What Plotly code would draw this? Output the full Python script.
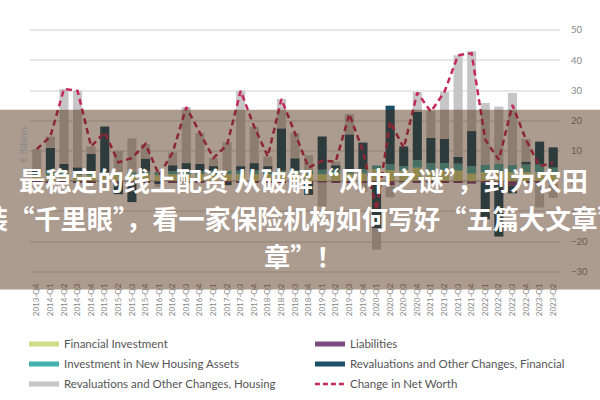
import plotly.graph_objects as go

quarters = ["2013-Q4"] + [f"{y}-Q{q}" for y in range(2014, 2023) for q in range(1, 5)] + ["2023-Q1", "2023-Q2"]

financial_investment = [1.8, 2.0, 2.0, 2.0, 2.0, 2.0, 2.0, 2.0, 2.2, 2.0, 2.3, 2.2, 2.3, 2.3, 2.3, 2.3, 2.3, 2.3, 2.3, 2.3,
                        2.3, 2.3, 2.3, 2.5, 2.5, 4.0, 3.7, 3.5, 4.5, 3.5, 3.5, 3.5, 2.5, 3.0, 3.0, 3.0, 3.0, 3.0, 2.5]
investment_housing = [0.8, 1.0, 1.0, 1.0, 1.2, 1.1, 1.0, 1.0, 1.1, 1.0, 1.0, 1.0, 1.1, 1.2, 1.2, 1.2, 1.2, 1.2, 1.2, 1.3,
                      1.3, 1.5, 1.5, 1.5, 1.5, 1.2, 2.0, 1.5, 2.5, 2.5, 2.5, 2.3, 2.5, 2.5, 2.7, 2.5, 2.5, 2.5, 2.0]
liabilities = [-0.3, -0.4, -0.3, -0.4, -0.3, -0.4, -0.5, -0.4, -0.3, -0.4, -0.3, -0.4, -0.3, -0.4, -0.3, -0.4, -0.3, -0.4, -0.3, -0.4,
               -0.5, -0.4, -0.3, -0.4, -0.5, -0.6, -1.3, -0.5, -0.4, -0.5, -0.4, -0.5, -0.8, -0.6, -0.7, -1.5, -0.6, -0.5, -0.5]
reval_financial = [1.5, 8.0, 2.7, 1.6, 5.8, 15.0, -3.8, -6.5, 4.2, -0.5, 2.0, 2.8, 2.3, 1.5, -1.0, 1.5, 2.5, 1.5, 14.0, 4.0,
                   -4.0, 11.0, 1.5, 11.5, 8.8, -15.0, 19.3, 6.5, 16.0, 8.3, 8.0, 2.3, 11.6, -12.0, -17.6, -2.5, 1.0, 7.6, 6.7]
reval_housing = [6.5, 3.8, 24.8, 25.3, 2.5, -1.9, 7.0, 11.2, 4.8, -1.0, 4.2, 18.5, 10.3, 2.7, 9.5, 24.9, 12.0, 3.2, 9.7, 8.4,
                 5.0, -8.0, 1.2, 6.7, -3.0, -7.0, -4.0, -0.5, 6.5, 9.0, 15.6, 33.6, 26.4, 20.4, 19.0, 23.7, 7.5, -8.2, -5.0]
net_worth = [10.6, 14.8, 30.5, 29.9, 11.5, 16.2, 6.2, 7.7, 12.3, 2.0, 9.5, 24.5, 16.0, 7.7, 12.0, 29.9, 18.0, 8.2, 27.2, 16.0,
             4.5, 6.8, 6.5, 22.2, 10.0, -9.5, 19.7, 11.0, 29.3, 23.0, 29.6, 41.7, 42.3, 13.7, 7.1, 25.2, 13.7, 4.9, 6.2]

y_ticks = [-30, -20, -10, 0, 10, 20, 30, 40, 50]

title_lines = [
    "最稳定的线上配资 从破解“风中之谜”，到为农田",
    "装“千里眼”，看一家保险机构如何写好“五篇大文章”",
    "章”！",
]

C_FI = "#cfdd8b"
C_INHA = "#45b1ae"
C_LIAB = "#7a4a80"
C_ROCF = "#1b5068"
C_ROCH = "#c6c6c6"
C_NET = "#c42b5c"

bar_series = [
    ("Financial Investment", financial_investment, C_FI),
    ("Investment in New Housing Assets", investment_housing, C_INHA),
    ("Liabilities", liabilities, C_LIAB),
    ("Revaluations and Other Changes, Financial", reval_financial, C_ROCF),
    ("Revaluations and Other Changes, Housing", reval_housing, C_ROCH),
]

fig = go.Figure()
for name, vals, col in bar_series:
    fig.add_trace(go.Bar(x=quarters, y=vals, name=name, marker=dict(color=col, line=dict(width=0)),
                         showlegend=False, hoverinfo="skip"))

fig.add_trace(go.Scatter(x=quarters, y=net_worth, mode="lines", name="Change in Net Worth",
                         line=dict(color=C_NET, width=2.5, dash="6px,4px"), showlegend=False))

# legend entries (two columns)
col1 = [("Financial Investment", C_FI, "solid"),
        ("Investment in New Housing Assets", C_INHA, "solid"),
        ("Revaluations and Other Changes, Housing", C_ROCH, "solid")]
col2 = [("Liabilities", C_LIAB, "solid"),
        ("Revaluations and Other Changes, Financial", C_ROCF, "solid"),
        ("Change in Net Worth", C_NET, "dash")]
for lg, items in (("legend", col1), ("legend2", col2)):
    for i, (name, col, dash) in enumerate(items):
        w = 2.5 if dash == "dash" else 5
        fig.add_trace(go.Scatter(x=[None], y=[None], mode="lines", name=name, legend=lg,
                                 legendgroup=f"{lg}{i}",
                                 line=dict(color=col, width=w, dash="5px,3px" if dash == "dash" else "solid")))

L, R, T, B = 30, 40, 21, 118.5
W, H = 600, 400
pw, ph = W - L - R, H - T - B

def px(xp):
    return (xp - L) / pw

def py(yp):
    return (H - B - yp) / ph

legend_common = dict(orientation="v", yanchor="top", xanchor="left", traceorder="grouped",
                     tracegroupgap=1, font=dict(family="Lato", size=11.5, color="#555555"),
                     bgcolor="rgba(0,0,0,0)", borderwidth=0)

fig.update_layout(
    width=W, height=H,
    margin=dict(l=L, r=R, t=T, b=B, autoexpand=False),
    paper_bgcolor="white", plot_bgcolor="white",
    barmode="relative", bargap=0.33,
    font=dict(family="Lato", color="#888888"),
    xaxis=dict(type="category", categoryorder="array", categoryarray=quarters,
               tickangle=-90, tickfont=dict(size=8, color="#888888"), showgrid=False,
               showline=False, ticks="", automargin=False),
    yaxis=dict(side="right", range=[-33, 53], tickvals=y_ticks, showgrid=True,
               gridcolor="#e8e8e8", gridwidth=1.5, zeroline=True, zerolinecolor="#d0d0d0",
               zerolinewidth=1.5, tickfont=dict(size=9.5, color="#888888"),
               ticks="outside", ticklen=8, tickcolor="rgba(0,0,0,0)", automargin=False),
    legend=dict(x=px(24), y=py(330), **legend_common),
    legend2=dict(x=px(310), y=py(330), **legend_common),
    showlegend=True,
)

fig.add_annotation(text="€ Billion", xref="paper", yref="paper", x=px(15), y=py(145),
                   textangle=-90, showarrow=False, font=dict(size=10, color="#888888"))

# semi-transparent overlay banner
fig.add_shape(type="rect", xref="paper", yref="paper", x0=px(-5), x1=px(605), y0=py(290), y1=py(110),
              fillcolor="rgba(70,33,6,0.45)", line=dict(width=0), layer="above")

for text, yc in zip(title_lines, (180, 218, 256)):
    fig.add_annotation(text=text, xref="paper", yref="paper", x=px(303), y=py(yc),
                       xanchor="center", yanchor="middle", showarrow=False,
                       font=dict(family="Noto Sans CJK SC", size=26.2, color="white", weight=700))

fig.write_html("out.html")
